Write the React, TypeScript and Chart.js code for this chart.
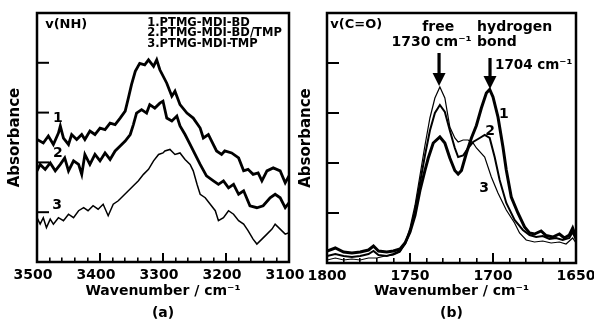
import React, { useEffect, useRef } from 'react';
import { Chart, registerables } from 'chart.js';
Chart.register(...registerables);

const FONT = '"DejaVu Sans", "Liberation Sans", sans-serif';

// ---------- Panel (a): v(NH) region ----------
const xTicksA = [3500, 3400, 3300, 3200, 3100];
const yTickValues = [1, 2, 3, 4];

const nhWavenumber1 = [3500, 3490, 3482, 3474, 3466, 3463, 3458, 3450, 3445, 3437, 3429, 3424, 3416, 3408, 3400, 3392, 3384, 3376, 3368, 3360, 3355, 3350, 3344, 3337, 3329, 3323, 3315, 3310, 3305, 3294, 3286, 3281, 3273, 3262, 3252, 3241, 3236, 3228, 3223, 3215, 3207, 3202, 3191, 3180, 3172, 3165, 3157, 3149, 3143, 3135, 3125, 3114, 3106, 3100];
const nhAbsorbance1 = [2.46, 2.39, 2.53, 2.36, 2.59, 2.73, 2.49, 2.36, 2.56, 2.46, 2.56, 2.46, 2.63, 2.56, 2.69, 2.66, 2.79, 2.76, 2.89, 3.03, 3.29, 3.56, 3.83, 3.99, 3.96, 4.06, 3.93, 4.06, 3.86, 3.59, 3.33, 3.43, 3.16, 2.99, 2.89, 2.69, 2.49, 2.56, 2.43, 2.23, 2.16, 2.23, 2.19, 2.09, 1.83, 1.86, 1.76, 1.79, 1.63, 1.83, 1.89, 1.83, 1.59, 1.73];

const nhWavenumber2 = [3500, 3495, 3487, 3479, 3471, 3463, 3456, 3450, 3442, 3434, 3429, 3424, 3416, 3408, 3400, 3392, 3384, 3376, 3368, 3360, 3352, 3347, 3342, 3334, 3326, 3321, 3313, 3305, 3300, 3294, 3286, 3278, 3273, 3265, 3257, 3249, 3241, 3231, 3220, 3212, 3204, 3196, 3188, 3180, 3172, 3162, 3151, 3141, 3130, 3122, 3114, 3106, 3100];
const nhAbsorbance2 = [1.83, 1.96, 1.86, 1.99, 1.83, 1.96, 2.09, 1.83, 2.03, 1.96, 1.76, 2.16, 1.96, 2.16, 2.03, 2.19, 2.06, 2.23, 2.33, 2.43, 2.56, 2.76, 2.99, 3.06, 2.99, 3.16, 3.09, 3.19, 3.23, 2.89, 2.83, 2.93, 2.73, 2.56, 2.36, 2.16, 1.96, 1.73, 1.63, 1.56, 1.63, 1.49, 1.56, 1.36, 1.43, 1.13, 1.09, 1.13, 1.29, 1.36, 1.29, 1.09, 1.19];

const nhWavenumber3 = [3500, 3495, 3490, 3485, 3479, 3474, 3466, 3458, 3450, 3442, 3434, 3426, 3419, 3411, 3403, 3395, 3387, 3379, 3371, 3363, 3355, 3347, 3339, 3331, 3323, 3315, 3307, 3300, 3297, 3289, 3281, 3273, 3265, 3257, 3252, 3246, 3241, 3233, 3225, 3217, 3212, 3204, 3196, 3188, 3180, 3172, 3165, 3157, 3151, 3143, 3135, 3127, 3122, 3114, 3106, 3100];
const nhAbsorbance3 = [0.89, 0.76, 0.89, 0.69, 0.86, 0.76, 0.89, 0.83, 0.96, 0.89, 1.03, 1.09, 1.03, 1.13, 1.06, 1.16, 0.93, 1.16, 1.23, 1.33, 1.43, 1.53, 1.63, 1.76, 1.86, 2.03, 2.16, 2.19, 2.23, 2.26, 2.16, 2.19, 2.06, 1.96, 1.83, 1.56, 1.36, 1.29, 1.16, 1.03, 0.83, 0.89, 1.03, 0.96, 0.83, 0.76, 0.63, 0.46, 0.36, 0.46, 0.56, 0.66, 0.76, 0.66, 0.56, 0.59];

// ---------- Panel (b): v(C=O) region ----------
const xTicksB = [1800, 1750, 1700, 1650];

const coWavenumber1 = [1800, 1795, 1790, 1785, 1780, 1775, 1772, 1769, 1764, 1760, 1756, 1753, 1750, 1747, 1744, 1741, 1739, 1736, 1732, 1729, 1726, 1723, 1721, 1719, 1716, 1713, 1710, 1707, 1704, 1702, 1700, 1697, 1694, 1692, 1689, 1685, 1681, 1678, 1675, 1671, 1668, 1664, 1660, 1657, 1654, 1652, 1650];
const coAbsorbance1 = [0.24, 0.30, 0.22, 0.20, 0.22, 0.26, 0.34, 0.24, 0.22, 0.24, 0.28, 0.40, 0.62, 0.95, 1.45, 1.85, 2.10, 2.40, 2.52, 2.40, 2.10, 1.85, 1.78, 1.85, 2.20, 2.50, 2.75, 3.10, 3.40, 3.47, 3.32, 2.92, 2.32, 1.86, 1.32, 1.00, 0.72, 0.60, 0.58, 0.64, 0.55, 0.52, 0.58, 0.50, 0.56, 0.70, 0.52];

const coWavenumber2 = [1800, 1795, 1790, 1785, 1780, 1775, 1772, 1769, 1764, 1760, 1756, 1753, 1750, 1747, 1744, 1741, 1738, 1735, 1732, 1729, 1726, 1723, 1721, 1718, 1715, 1712, 1708, 1705, 1702, 1699, 1696, 1692, 1687, 1682, 1678, 1674, 1670, 1666, 1662, 1658, 1654, 1652, 1650];
const coAbsorbance2 = [0.14, 0.18, 0.14, 0.12, 0.14, 0.18, 0.24, 0.16, 0.14, 0.18, 0.24, 0.38, 0.62, 1.05, 1.60, 2.15, 2.65, 3.00, 3.16, 3.02, 2.65, 2.30, 2.12, 2.15, 2.30, 2.42, 2.50, 2.56, 2.50, 2.12, 1.66, 1.20, 0.86, 0.66, 0.56, 0.52, 0.54, 0.48, 0.50, 0.46, 0.50, 0.62, 0.46];

const coWavenumber3 = [1800, 1795, 1790, 1785, 1780, 1775, 1770, 1765, 1760, 1756, 1753, 1750, 1747, 1744, 1741, 1738, 1735, 1732, 1729, 1726, 1723, 1721, 1718, 1715, 1712, 1710, 1705, 1701, 1697, 1692, 1687, 1684, 1680, 1675, 1670, 1665, 1660, 1656, 1652, 1650];
const coAbsorbance3 = [0.06, 0.10, 0.06, 0.08, 0.06, 0.10, 0.10, 0.14, 0.16, 0.22, 0.40, 0.70, 1.15, 1.75, 2.35, 2.90, 3.30, 3.52, 3.30, 2.72, 2.50, 2.42, 2.46, 2.46, 2.40, 2.30, 2.12, 1.72, 1.40, 1.06, 0.80, 0.60, 0.46, 0.42, 0.44, 0.40, 0.42, 0.38, 0.50, 0.40];

const toPoints = (xs: number[], ys: number[]) => xs.map((x, i) => ({ x, y: ys[i] }));

type TextNote = { text: string; x: number; y: number; align: CanvasTextAlign; size: number };
type ArrowNote = { x: number; yTop: number; yTip: number };

const notesA: TextNote[] = [
  { text: 'v(NH)', x: 3487, y: 4.76, align: 'left', size: 13 },
  { text: '1.PTMG-MDI-BD', x: 3325, y: 4.80, align: 'left', size: 11.5 },
  { text: '2.PTMG-MDI-BD/TMP', x: 3325, y: 4.59, align: 'left', size: 11.5 },
  { text: '3.PTMG-MDI-TMP', x: 3325, y: 4.38, align: 'left', size: 11.5 },
  { text: '1', x: 3467, y: 2.89, align: 'center', size: 14 },
  { text: '2', x: 3467, y: 2.19, align: 'center', size: 14 },
  { text: '3', x: 3468, y: 1.14, align: 'center', size: 14 },
];
const notesB: TextNote[] = [
  { text: 'v(C=O)', x: 1798, y: 4.76, align: 'left', size: 13 },
  { text: 'free', x: 1733, y: 4.72, align: 'center', size: 14 },
  { text: '1730 cm⁻¹', x: 1737, y: 4.42, align: 'center', size: 14 },
  { text: 'hydrogen', x: 1709.6, y: 4.72, align: 'left', size: 14 },
  { text: 'bond', x: 1709.6, y: 4.42, align: 'left', size: 14 },
  { text: '1704 cm⁻¹', x: 1698.8, y: 3.96, align: 'left', size: 13.5 },
  { text: '1', x: 1693.4, y: 2.98, align: 'center', size: 14 },
  { text: '2', x: 1701.8, y: 2.64, align: 'center', size: 14 },
  { text: '3', x: 1705.4, y: 1.5, align: 'center', size: 14 },
];
const arrowsB: ArrowNote[] = [
  { x: 1732.5, yTop: 4.2, yTip: 3.54 },
  { x: 1701.8, yTop: 4.1, yTip: 3.48 },
];

type PanelSpec = {
  xMin: number; xMax: number; xTicks: number[];
  minorStep: number; majorLen: number; minorLen: number;
  yAxisWidth: number; yTitlePad: number; xAxisHeight: number; padRight: number;
  labelOffset: number; caption: string;
  series: { pts: { x: number; y: number }[]; width: number }[];
  notes: TextNote[]; arrows: ArrowNote[];
};

// Inward y ticks and the frame, drawn through the chart's scales.
const makeFrame = (p: PanelSpec) => ({
  id: 'panelFrame',
  afterDraw(chart: any) {
    const ctx = chart.ctx;
    const area = chart.chartArea;
    const ys = chart.scales.y;
    ctx.save();
    ctx.strokeStyle = '#000';
    ctx.lineWidth = 2;
    for (const v of yTickValues) {
      const py = ys.getPixelForValue(v);
      ctx.beginPath();
      ctx.moveTo(area.left, py);
      ctx.lineTo(area.left + 12, py);
      ctx.stroke();
    }
    ctx.lineWidth = 2.5;
    ctx.strokeRect(area.left, area.top, area.right - area.left, area.bottom - area.top);
    ctx.restore();
  },
});

// Text labels and arrows placed in data coordinates.
const makeNotes = (p: PanelSpec) => ({
  id: 'panelNotes',
  afterDraw(chart: any) {
    const ctx = chart.ctx;
    const xs = chart.scales.x;
    const ys = chart.scales.y;
    ctx.save();
    ctx.strokeStyle = '#000';
    ctx.fillStyle = '#000';
    for (const a of p.arrows) {
      const px = xs.getPixelForValue(a.x);
      const pTop = ys.getPixelForValue(a.yTop);
      const pTip = ys.getPixelForValue(a.yTip);
      ctx.lineWidth = 3.2;
      ctx.beginPath();
      ctx.moveTo(px, pTop);
      ctx.lineTo(px, pTip - 12);
      ctx.stroke();
      ctx.beginPath();
      ctx.moveTo(px - 6.5, pTip - 13);
      ctx.lineTo(px + 6.5, pTip - 13);
      ctx.lineTo(px, pTip);
      ctx.closePath();
      ctx.fill();
    }
    ctx.textBaseline = 'middle';
    for (const t of p.notes) {
      ctx.font = `bold ${t.size}px ${FONT}`;
      ctx.textAlign = t.align;
      ctx.fillText(t.text, xs.getPixelForValue(t.x), ys.getPixelForValue(t.y));
    }
    ctx.restore();
  },
});

const panelA: PanelSpec = {
  xMin: 3100, xMax: 3500, xTicks: xTicksA,
  minorStep: 20, majorLen: 9, minorLen: 4.5,
  yAxisWidth: 37, yTitlePad: 6, xAxisHeight: 62, padRight: 23,
  labelOffset: -4, caption: '(a)',
  series: [
    { pts: toPoints(nhWavenumber1, nhAbsorbance1), width: 2.8 },
    { pts: toPoints(nhWavenumber2, nhAbsorbance2), width: 2.8 },
    { pts: toPoints(nhWavenumber3, nhAbsorbance3), width: 1.5 },
  ],
  notes: notesA, arrows: [],
};

const panelB: PanelSpec = {
  xMin: 1650, xMax: 1800, xTicks: xTicksB,
  minorStep: 10, majorLen: 10, minorLen: 5,
  yAxisWidth: 35, yTitlePad: 5, xAxisHeight: 61, padRight: 18,
  labelOffset: 0, caption: '(b)',
  series: [
    { pts: toPoints(coWavenumber1, coAbsorbance1), width: 3 },
    { pts: toPoints(coWavenumber2, coAbsorbance2), width: 2 },
    { pts: toPoints(coWavenumber3, coAbsorbance3), width: 1.2 },
  ],
  notes: notesB, arrows: arrowsB,
};

const makeConfig = (p: PanelSpec): any => {
  const count = Math.round((p.xMax - p.xMin) / p.minorStep);
  const minorValues = Array.from({ length: count + 1 }, (_, i) => p.xMin + i * p.minorStep);
  return {
    type: 'line',
    data: {
      datasets: p.series.map((s) => ({
        data: s.pts,
        borderColor: '#000',
        borderWidth: s.width,
        pointRadius: 0,
        tension: 0,
        xAxisID: 'x',
        yAxisID: 'y',
      })),
    },
    options: {
      responsive: false,
      animation: false,
      events: [],
      layout: { padding: { left: 0, right: p.padRight, top: 13, bottom: 0 } },
      plugins: {
        legend: { display: false },
        tooltip: { enabled: false },
      },
      scales: {
        // minor ticks: an unlabeled axis of zero height right on the plot's bottom edge
        xMinor: {
          type: 'linear',
          position: 'bottom',
          weight: 0,
          reverse: true,
          min: p.xMin,
          max: p.xMax,
          afterBuildTicks: (scale: any) => { scale.ticks = minorValues.map((v) => ({ value: v })); },
          afterFit: (scale: any) => { scale.height = 0; scale.paddingLeft = 0; scale.paddingRight = 0; },
          grid: {
            display: true, drawOnChartArea: false, drawTicks: true,
            tickLength: -p.minorLen, tickColor: '#000', tickWidth: 1.6, color: '#000', lineWidth: 1.6,
          },
          border: { display: false },
          ticks: { display: false, autoSkip: false },
        },
        x: {
          type: 'linear',
          position: 'bottom',
          weight: 1,
          reverse: true,
          min: p.xMin,
          max: p.xMax,
          afterBuildTicks: (scale: any) => { scale.ticks = p.xTicks.map((v) => ({ value: v })); },
          afterFit: (scale: any) => { scale.height = p.xAxisHeight; scale.paddingLeft = 0; scale.paddingRight = 0; },
          grid: {
            display: true, drawOnChartArea: false, drawTicks: true,
            tickLength: -p.majorLen, tickColor: '#000', tickWidth: 2, color: '#000', lineWidth: 2,
          },
          border: { display: false },
          ticks: {
            autoSkip: false, maxRotation: 0, padding: 5 + p.majorLen, labelOffset: p.labelOffset,
            color: '#000', font: { family: FONT, size: 14, weight: 'bold' },
            callback: (v: any) => String(v),
          },
          title: {
            display: true,
            text: ['Wavenumber / cm⁻¹', p.caption],
            color: '#000',
            font: { family: FONT, size: 14, weight: 'bold', lineHeight: 22 / 14 },
            padding: { top: 0, bottom: 0 },
          },
        },
        y: {
          type: 'linear',
          min: 0,
          max: 5,
          afterFit: (scale: any) => { scale.width = p.yAxisWidth; },
          grid: { display: false, drawTicks: false },
          border: { display: false },
          ticks: { display: false },
          title: {
            display: true,
            text: 'Absorbance',
            color: '#000',
            font: { family: FONT, size: 15, weight: 'bold', lineHeight: 1.2 },
            padding: { top: p.yTitlePad, bottom: 0 },
          },
        },
      },
    },
    plugins: [makeFrame(p), makeNotes(p)],
  };
};

export default function App() {
  const refA = useRef<HTMLCanvasElement>(null);
  const refB = useRef<HTMLCanvasElement>(null);
  useEffect(() => {
    const a = new Chart(refA.current as HTMLCanvasElement, makeConfig(panelA));
    const b = new Chart(refB.current as HTMLCanvasElement, makeConfig(panelB));
    return () => { a.destroy(); b.destroy(); };
  }, []);
  return (
    <div style={{ position: 'absolute', left: 0, top: 0, width: 594, height: 324, background: '#fff', overflow: 'hidden' }}>
      <canvas ref={refA} width={312} height={324} style={{ position: 'absolute', left: 0, top: 0 }} />
      <canvas ref={refB} width={302} height={324} style={{ position: 'absolute', left: 292, top: 0 }} />
    </div>
  );
}
